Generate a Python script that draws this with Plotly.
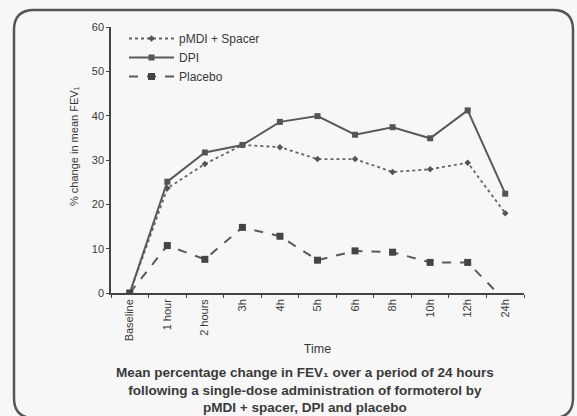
import plotly.graph_objects as go

times = ["Baseline", "1 hour", "2 hours", "3h", "4h", "5h", "6h", "8h", "10h", "12h", "24h"]
pmdi_spacer = [0, 23.6, 29.1, 33.4, 32.9, 30.2, 30.2, 27.3, 27.9, 29.4, 18.0]
dpi = [0, 25.1, 31.7, 33.4, 38.6, 39.9, 35.7, 37.4, 34.9, 41.2, 22.4]
placebo = [0, 10.7, 7.6, 14.8, 12.8, 7.4, 9.5, 9.2, 6.9, 6.9, -1.8]
y_ticks = [0, 10, 20, 30, 40, 50, 60]

series_names = ["pMDI + Spacer", "DPI", "Placebo"]

W, H = 577, 416
ml, mr, mt, mb = 111, 53, 27, 123
FONT = "Liberation Sans"
INK = "#3a3a3a"

fig = go.Figure()
fig.add_trace(go.Scatter(
    x=times, y=pmdi_spacer, name=series_names[0], mode="lines+markers",
    line=dict(color="#666666", width=1.8, dash="dot"),
    marker=dict(symbol="diamond", size=5, color="#555555"),
))
fig.add_trace(go.Scatter(
    x=times, y=dpi, name=series_names[1], mode="lines+markers",
    line=dict(color="#5a5a5a", width=2),
    marker=dict(symbol="square", size=6, color="#555555"),
))
fig.add_trace(go.Scatter(
    x=times, y=placebo, name=series_names[2], mode="lines+markers",
    line=dict(color="#5a5a5a", width=2, dash="dash"),
    marker=dict(symbol="square", size=7, color="#444444"),
    cliponaxis=True,
))

pw = W - ml - mr
ph = H - mt - mb


def px(x):
    return (x - ml) / pw


def py(y):
    return (H - mb - y) / ph


x0, x1, y0, y1, r = 14, 573, 10, 418, 20
path = (f"M {px(x0 + r)},{py(y0)} L {px(x1 - r)},{py(y0)} "
        f"Q {px(x1)},{py(y0)} {px(x1)},{py(y0 + r)} "
        f"L {px(x1)},{py(y1 - r)} Q {px(x1)},{py(y1)} {px(x1 - r)},{py(y1)} "
        f"L {px(x0 + r)},{py(y1)} Q {px(x0)},{py(y1)} {px(x0)},{py(y1 - r)} "
        f"L {px(x0)},{py(y0 + r)} Q {px(x0)},{py(y0)} {px(x0 + r)},{py(y0)} Z")
fig.add_shape(type="path", path=path, xref="paper", yref="paper",
              line=dict(color="#555555", width=2.5), fillcolor="rgba(0,0,0,0)", layer="below")

fig.update_layout(
    width=W, height=H,
    margin=dict(l=ml, r=mr, t=mt, b=mb, autoexpand=False),
    paper_bgcolor="#f7f7f7", plot_bgcolor="#f7f7f7",
    font=dict(family=FONT, size=11, color=INK),
    showlegend=True,
    legend=dict(x=px(124), y=py(24), xanchor="left", yanchor="top",
                bgcolor="rgba(0,0,0,0)", font=dict(size=12, color=INK),
                itemwidth=45, tracegroupgap=0),
    xaxis=dict(
        type="category", range=[-0.5, 10.5], automargin=False,
        showline=True, linecolor="#444444", linewidth=1.5,
        ticks="outside", ticklen=3, tickcolor="#444444", tickson="boundaries",
        tickangle=-90, showgrid=False, zeroline=False,
        tickfont=dict(size=11, color=INK),
        title=dict(text="Time", font=dict(size=12.5, color=INK), standoff=4),
    ),
    yaxis=dict(
        range=[0, 60], tickvals=y_ticks, automargin=False,
        showline=True, linecolor="#444444", linewidth=1.5,
        ticks="outside", ticklen=3, tickcolor="#444444",
        showgrid=False, zeroline=False,
        tickfont=dict(size=11, color=INK),
    ),
)

fig.add_annotation(
    text="% change in mean FEV₁", textangle=-90,
    xref="paper", yref="paper", x=px(74), y=py(146), xanchor="center", yanchor="middle",
    showarrow=False, font=dict(size=11, color=INK),
)

fig.add_annotation(
    text=("<b>Mean percentage change in FEV₁ over a period of 24 hours<br>"
          "following a single-dose administration of formoterol by<br>"
          "pMDI + spacer, DPI and placebo</b>"),
    xref="paper", yref="paper", x=px(305), y=py(363), xanchor="center", yanchor="top",
    showarrow=False, align="center", font=dict(size=13.5, color=INK),
)

fig.write_html("out.html", config={"displayModeBar": False},
               post_script="document.body.style.margin='0px';")
